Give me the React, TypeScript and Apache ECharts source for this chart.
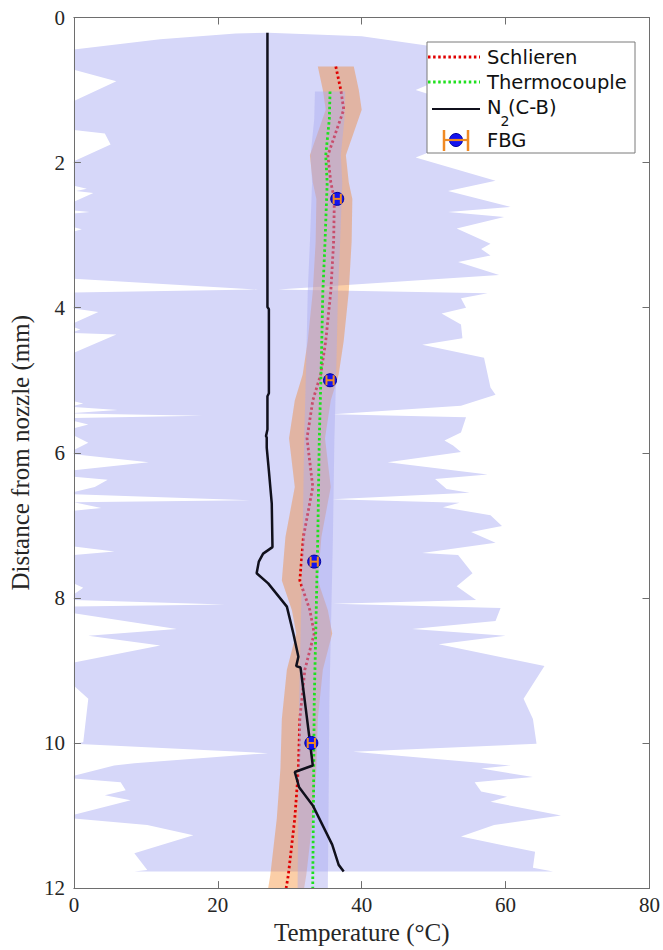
import React, { useEffect, useRef } from "react";
import * as echarts from "echarts";

// ---------- axes ----------
const X_MIN = 0, X_MAX = 80, X_STEP = 20;
const Y_MIN = 0, Y_MAX = 12, Y_STEP = 2;
const X_NAME = "Temperature (°C)";
const Y_NAME = "Distance from nozzle (mm)";

// ---------- N2(C-B) uncertainty band: visible outline [T, mm] ----------
const bandLeft: number[][] = [
  [27.0, 0.21], [22.5, 0.22], [12, 0.3], [0, 0.44],
  [0, 0.72], [5.9, 0.88], [0, 1.15],
  [0, 1.55], [4.3, 1.6], [5.1, 1.75], [0, 1.98],
  [0, 2.32], [1.8, 2.36], [0.3, 2.39], [2.7, 2.42], [0, 2.54],
  [0, 2.66], [2.2, 2.68], [0, 2.7],
  [0, 2.89], [1.1, 2.92], [0, 2.95],
  [0, 3.6], [25.6, 3.75], [0, 3.79],
  [0, 4.01], [3.4, 4.06], [0, 4.21],
  [0, 4.27], [0.9, 4.3], [0, 4.33],
  [0, 4.35], [5.9, 4.37], [0, 4.62],
  [0, 5.29], [1.3, 5.32], [0, 5.35],
  [0, 5.37], [6.1, 5.41], [0, 5.45],
  [0, 5.46], [17.9, 5.49], [0, 5.52],
  [0, 5.56], [2.0, 5.61], [0, 5.66],
  [0, 5.76], [2.0, 5.86], [0, 5.96],
  [0, 6.02], [10.4, 6.13], [0, 6.24],
  [0, 6.33], [4.7, 6.37], [2.9, 6.47], [0, 6.54],
  [0, 6.57], [24.5, 6.655], [0, 6.68], [3.8, 6.76], [0, 6.8],
  [0, 7.29], [5.65, 7.36], [0, 7.41],
  [0, 7.8], [1.3, 7.86], [0, 7.95],
  [0, 8.03], [21, 8.09], [0, 8.12],
  [0, 8.21], [14.3, 8.43], [2.0, 8.52], [12.0, 8.655], [0, 8.89],
  [0, 9.21], [2.0, 9.39], [1.3, 9.99], [0, 10.01],
  [27, 10.14], [8.4, 10.28], [5.6, 10.31], [0, 10.45],
  [0, 10.49], [6.5, 10.54], [7.2, 10.65], [4.3, 10.72], [7.9, 10.79], [0, 10.99],
  [0, 11.04], [10.2, 11.13], [16.6, 11.27], [8.4, 11.52], [10.2, 11.75], [8.4, 11.77],
];
const bandRight: number[][] = [
  [27.0, 0.21], [40, 0.26], [50, 0.4], [57, 0.6], [47.5, 1.0], [57, 1.3], [56, 1.6],
  [47.5, 1.93], [58.6, 2.25], [52.0, 2.39], [60.7, 2.61], [52.0, 2.68], [59.8, 2.75],
  [53.2, 2.91], [57.9, 3.12], [56.6, 3.19], [57.9, 3.28], [53.4, 3.37], [59.1, 3.55],
  [28.4, 3.75], [57.5, 3.8], [53.8, 3.87], [54.5, 4.0], [51.1, 4.08], [53.8, 4.23],
  [54.0, 4.42], [48.4, 4.51], [57.0, 4.69], [57.9, 5.1], [58.6, 5.2], [53.8, 5.35],
  [36.0, 5.47], [54.5, 5.51], [53.8, 5.72], [51.5, 5.83], [52.7, 5.9], [53.8, 5.99],
  [43.6, 6.13], [57.5, 6.3], [50.2, 6.36], [51.8, 6.5], [55.0, 6.55], [35.9, 6.64],
  [53.6, 6.69], [51.3, 6.75], [57.9, 6.86], [59.5, 7.01], [55.2, 7.09], [58.6, 7.24],
  [48.4, 7.38], [53.4, 7.41], [55.4, 7.66], [53.2, 7.84], [55.9, 8.03], [36.0, 8.08],
  [59.3, 8.14], [58.6, 8.32], [47.0, 8.43], [60.0, 8.52], [50.7, 8.64], [65.4, 8.94],
  [62.5, 9.39], [63.8, 9.67], [64.3, 10.01], [38.8, 10.12], [60.7, 10.31], [56.6, 10.35],
  [63.8, 10.47], [55.7, 10.54], [56.6, 10.67], [60.2, 10.74], [57.9, 10.81], [67.7, 11.0],
  [58.4, 11.13], [53.8, 11.29], [64.1, 11.5], [63.8, 11.72], [66.6, 11.77],
];

// ---------- Schlieren ----------
const schlierenY = [0.675, 1.0, 1.27, 1.9, 2.27, 2.5, 3.09, 3.78, 4.46, 4.92, 5.28, 5.8, 6.47, 7.16, 7.76, 8.17, 8.49, 8.99, 9.67, 10.36, 11.04, 11.82, 12.0];
const schlierenT = [36.4, 37.1, 37.5, 35.3, 35.7, 36.2, 36.1, 35.7, 35.0, 34.3, 33.2, 32.4, 33.2, 31.9, 31.4, 32.8, 33.4, 32.1, 31.4, 31.2, 30.7, 29.8, 29.5];
const schlierenErr = [2.5, 2.5, 2.5, 2.5, 2.5, 2.5, 2.5, 2.5, 2.5, 2.5, 2.5, 2.5, 2.5, 2.5, 2.5, 2.5, 2.5, 2.5, 2.5, 2.5, 2.5, 2.5, 2.5];

// ---------- Thermocouple ----------
const tcY = [1.02, 1.4, 1.9, 2.28, 3.1, 3.78, 4.7, 5.84, 7.16, 8.08, 9.45, 10.83, 11.87, 12.0];
const tcT = [35.6, 35.5, 35.0, 35.2, 34.9, 34.6, 34.4, 34.1, 33.9, 33.7, 33.4, 33.3, 33.2, 33.2];
const tcErr = [2.1, 2.1, 2.1, 2.1, 2.1, 2.1, 2.1, 2.1, 2.1, 2.1, 2.1, 2.1, 2.1, 2.1];

// ---------- N2(C-B) ----------
const n2Y = [0.21, 3.99, 4.02, 5.18, 5.22, 5.68, 5.77, 5.79, 5.93, 6.25, 6.7, 7.3, 7.39, 7.5, 7.66, 7.8, 8.12, 8.49, 8.81, 8.94, 8.96, 9.35, 9.9, 10.31, 10.4, 10.61, 10.86, 11.4, 11.68, 11.77];
const n2T = [26.9, 26.9, 27.1, 27.1, 26.9, 26.9, 26.7, 26.8, 26.8, 27.1, 27.5, 27.6, 26.3, 25.7, 25.4, 27.0, 29.6, 30.5, 31.2, 30.9, 31.5, 32.0, 32.7, 33.2, 30.7, 31.3, 33.2, 35.9, 36.8, 37.5];

// ---------- FBG ----------
const fbgY = [2.5, 5.0, 7.5, 10.0];
const fbgT = [36.6, 35.6, 33.4, 33.0];
const fbgErr = [0.5, 0.5, 0.5, 0.5];

const SERIF = '"Liberation Serif", "Times New Roman", serif';
const SANS = '"DejaVu Sans", sans-serif';
const RED = "#e00000";
const GREEN = "#1ee01e";
const BLACK = "#10101c";
const ORANGE = "#f08a24";
const BLUE = "#1414f0";
const LZ = 100;

const pairs = (t: number[], y: number[]) => t.map((v, i) => [v, y[i]]);

function polygonSeries(name: string, pts: number[][], fill: string, z: number) {
  return {
    type: "custom",
    name,
    z,
    silent: true,
    clip: true,
    coordinateSystem: "cartesian2d",
    encode: { x: 0, y: 1 },
    data: pts,
    renderItem: (params: any, api: any) => {
      if (params.dataIndex !== 0) return null;
      const points = pts.map((p) => api.coord(p));
      return { type: "polygon", shape: { points }, style: { fill, stroke: "none" } };
    },
  };
}

function bandPolygon(t: number[], y: number[], e: number[]) {
  const left = t.map((v, i) => [v - e[i], y[i]]);
  const right = t.map((v, i) => [v + e[i], y[i]]).reverse();
  return left.concat(right);
}

function legendText(text: string, x: number, y: number, size = 19.5) {
  return {
    type: "text", x, y, z: LZ + 1, silent: true,
    style: { text, fontFamily: SANS, fontSize: size, fill: "#111111", verticalAlign: "middle", align: "left" },
  };
}
function legendLine(x1: number, y1: number, x2: number, y2: number, stroke: string, lineWidth: number, lineDash?: number[]) {
  return {
    type: "line", z: LZ + 1, silent: true,
    shape: { x1, y1, x2, y2 },
    style: lineDash ? { stroke, lineWidth, lineDash } : { stroke, lineWidth },
  };
}

export default function App() {
  const ref = useRef<HTMLDivElement>(null);
  useEffect(() => {
    const chart = echarts.init(ref.current!, null, { renderer: "svg" });
    const axisLine = { show: true, onZero: false, lineStyle: { color: "#6e6e6e", width: 1 } };
    const axisTick = { show: true, inside: true, length: 7, lineStyle: { color: "#6e6e6e", width: 1 } };
    const bigBand = bandLeft.concat(bandRight.slice().reverse());

    const option: any = {
      animation: false,
      backgroundColor: "#ffffff",
      grid: { left: 65.5, right: 11.5, top: 17.5, bottom: 56.5, containLabel: false },
      xAxis: [
        {
          type: "value", min: X_MIN, max: X_MAX, interval: X_STEP, position: "bottom", z: 10,
          axisLine, axisTick, splitLine: { show: false },
          axisLabel: { fontFamily: SERIF, fontSize: 21, color: "#262626", margin: 6 },
          name: X_NAME, nameLocation: "middle", nameGap: 28,
          nameTextStyle: { fontFamily: SERIF, fontSize: 25, color: "#262626" },
        },
        {
          type: "value", min: X_MIN, max: X_MAX, interval: X_STEP, position: "top", z: 10,
          axisLine, axisTick, splitLine: { show: false }, axisLabel: { show: false },
        },
      ],
      yAxis: [
        {
          type: "value", inverse: true, min: Y_MIN, max: Y_MAX, interval: Y_STEP, position: "left", z: 10,
          axisLine, axisTick, splitLine: { show: false },
          axisLabel: { fontFamily: SERIF, fontSize: 21, color: "#262626", margin: 9 },
          name: Y_NAME, nameLocation: "middle", nameGap: 31, nameRotate: 90,
          nameTextStyle: { fontFamily: SERIF, fontSize: 25, color: "#262626" },
        },
        {
          type: "value", inverse: true, min: Y_MIN, max: Y_MAX, interval: Y_STEP, position: "right", z: 10,
          axisLine, axisTick, splitLine: { show: false }, axisLabel: { show: false },
        },
      ],
      series: [
        polygonSeries("N2 band", bigBand, "rgb(214,215,249)", 1),
        polygonSeries("Schlieren band", bandPolygon(schlierenT, schlierenY, schlierenErr), "rgba(245,120,10,0.36)", 2),
        {
          type: "line", name: "Schlieren", z: 3, silent: true, showSymbol: false, symbol: "none",
          data: pairs(schlierenT, schlierenY),
          lineStyle: { color: RED, width: 2.8, type: [2.5, 2.6], cap: "butt" },
        },
        polygonSeries("Thermocouple band", bandPolygon(tcT, tcY, tcErr), "rgba(170,170,240,0.45)", 4),
        {
          type: "line", name: "Thermocouple", z: 5, silent: true, showSymbol: false, symbol: "none",
          data: pairs(tcT, tcY),
          lineStyle: { color: GREEN, width: 2.8, type: [2.5, 2.6], cap: "butt" },
        },
        {
          type: "line", name: "N2(C-B)", z: 6, silent: true, showSymbol: false, symbol: "none",
          data: pairs(n2T, n2Y),
          lineStyle: { color: BLACK, width: 2.5 },
        },
        {
          type: "scatter", name: "FBG", z: 7, silent: true,
          data: pairs(fbgT, fbgY), symbol: "circle", symbolSize: 13,
          itemStyle: { color: BLUE, borderColor: "#0000a0", borderWidth: 1, opacity: 1 },
        },
        {
          type: "custom", name: "FBG error", z: 8, silent: true,
          coordinateSystem: "cartesian2d", encode: { x: 0, y: 1 },
          data: fbgT.map((t, i) => [t, fbgY[i], fbgErr[i]]),
          renderItem: (params: any, api: any) => {
            const t = api.value(0), y = api.value(1), e = api.value(2);
            const a = api.coord([t - e, y]);
            const b = api.coord([t + e, y]);
            const h = 5;
            const st = { stroke: ORANGE, lineWidth: 2 };
            return {
              type: "group",
              children: [
                { type: "line", shape: { x1: a[0], y1: a[1], x2: b[0], y2: b[1] }, style: st },
                { type: "line", shape: { x1: a[0], y1: a[1] - h, x2: a[0], y2: a[1] + h }, style: st },
                { type: "line", shape: { x1: b[0], y1: b[1] - h, x2: b[0], y2: b[1] + h }, style: st },
              ],
            };
          },
        },
      ],
      graphic: [
        { type: "rect", z: LZ, silent: true, shape: { x: 427, y: 42, width: 208, height: 111 }, style: { fill: "#ffffff", stroke: "#7a7a7a", lineWidth: 1 } },
        legendLine(428, 57, 480, 57, RED, 2.8, [2.5, 2.6]),
        legendText("Schlieren", 487, 57),
        legendLine(428, 82, 480, 82, GREEN, 2.8, [2.5, 2.6]),
        legendText("Thermocouple", 487, 82),
        legendLine(432, 109, 480, 109, BLACK, 2),
        legendText("N", 487, 107),
        legendText("2", 500.5, 121, 14),
        legendText("(C-B)", 508, 107),
        { type: "circle", z: LZ + 1, silent: true, shape: { cx: 456, cy: 140, r: 6.5 }, style: { fill: BLUE, stroke: "#0000a0", lineWidth: 1 } },
        legendLine(444, 140, 468, 140, ORANGE, 2.2),
        legendLine(444, 130, 444, 151, ORANGE, 2.5),
        legendLine(468, 130, 468, 151, ORANGE, 2.5),
        legendText("FBG", 487, 140),
      ],
    };
    chart.setOption(option);
    return () => chart.dispose();
  }, []);
  return (
    <div
      ref={ref}
      style={{ position: "fixed", left: 0, top: 0, width: 663, height: 950, background: "#ffffff" }}
    />
  );
}
